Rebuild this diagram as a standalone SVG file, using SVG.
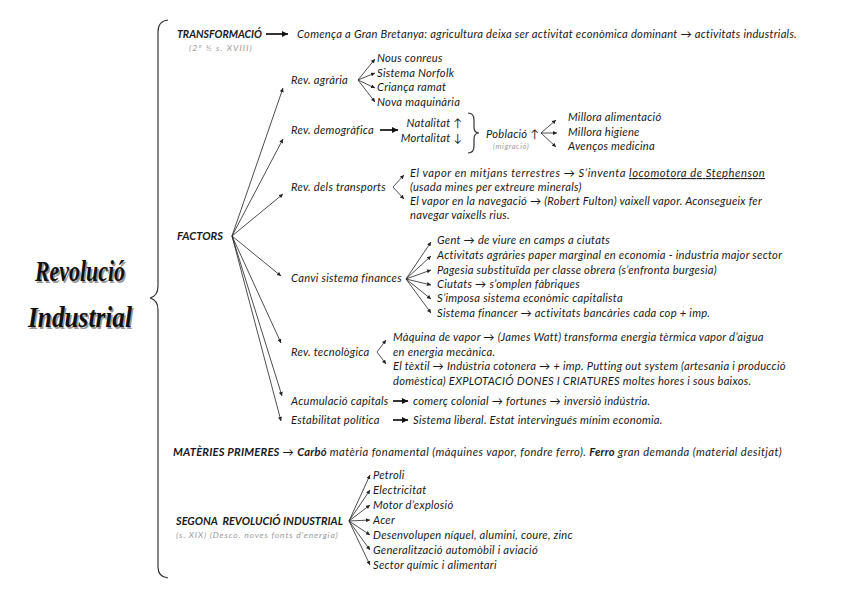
<svg xmlns="http://www.w3.org/2000/svg" width="848" height="599" viewBox="0 0 848 599">
<defs>
<style>
.t{font-family:Lato,"Noto Sans",sans-serif;font-style:italic;font-size:11.2px;letter-spacing:0.25px;fill:#1a1a1a}
.b{font-weight:bold;letter-spacing:0}
.g{fill:#9a9a9a;font-size:8.5px}
.c{stroke:#222;stroke-width:0.8;fill:none;marker-end:url(#ah)}
.k{stroke:#111;stroke-width:1.7;fill:none;marker-end:url(#ahb)}
.br{stroke:#333;stroke-width:1.2;fill:none}
.ti{font-family:"Liberation Serif",serif;font-style:italic;font-weight:bold;font-size:30px;text-anchor:middle}
</style>
<marker id="ah" viewBox="0 0 6 6" refX="6" refY="3" markerWidth="4.5" markerHeight="4" markerUnits="userSpaceOnUse" orient="auto"><path d="M0,0 L6,3 L0,6 z" fill="#222"/></marker>
<marker id="ahb" viewBox="0 0 6 6" refX="6" refY="3" markerWidth="7" markerHeight="6" markerUnits="userSpaceOnUse" orient="auto"><path d="M0,0 L6,3 L0,6 z" fill="#111"/></marker>
</defs>
<rect width="848" height="599" fill="#fff"/>

<g id="title">
<text class="ti" x="81.5" y="282.5" fill="#999" textLength="90" lengthAdjust="spacingAndGlyphs">Revolució</text>
<text class="ti" x="80" y="281" fill="#111" textLength="90" lengthAdjust="spacingAndGlyphs">Revolució</text>
<text class="ti" x="81.5" y="328.5" fill="#999" textLength="104" lengthAdjust="spacingAndGlyphs">Industrial</text>
<text class="ti" x="80" y="327" fill="#111" textLength="104" lengthAdjust="spacingAndGlyphs">Industrial</text>
</g>

<g id="main-brace">
<path class="br" d="M168,20 Q158,21 158,32 L158,286 Q158,296 150,298 Q158,300 158,310 L158,567 Q158,577 168,578"/>
</g>

<g id="connectors">
<path class="k" d="M266,34 L288,34"/>
<path class="c" d="M232,236 L283,88"/>
<path class="c" d="M232,236 L283,139"/>
<path class="c" d="M232,236 L283,194"/>
<path class="c" d="M232,236 L281,276"/>
<path class="c" d="M232,236 L281,343"/>
<path class="c" d="M232,236 L282,396"/>
<path class="c" d="M232,236 L281,421"/>
<path class="c" d="M358,80 L375,59"/>
<path class="c" d="M358,80 L375,73"/>
<path class="c" d="M358,80 L375,88"/>
<path class="c" d="M358,80 L375,102"/>
<path class="k" d="M380,130 L398,130"/>
<path class="c" d="M541,133 L556,120"/>
<path class="c" d="M541,133 L557,133"/>
<path class="c" d="M541,133 L556,147"/>
<path class="c" d="M393,187 L404,175"/>
<path class="c" d="M393,187 L404,199"/>
<path class="c" d="M406,279 L431,242"/>
<path class="c" d="M406,279 L431,256"/>
<path class="c" d="M406,279 L431,270"/>
<path class="c" d="M406,279 L431,285"/>
<path class="c" d="M406,279 L431,299"/>
<path class="c" d="M406,279 L431,313"/>
<path class="c" d="M377,352 L386,340"/>
<path class="c" d="M377,352 L386,364"/>
<path class="k" d="M393,401 L408,401"/>
<path class="k" d="M393,420 L408,420"/>
<path class="c" d="M349,521 L370,475"/>
<path class="c" d="M349,521 L370,490"/>
<path class="c" d="M349,521 L370,505"/>
<path class="c" d="M349,521 L370,520"/>
<path class="c" d="M349,521 L370,535"/>
<path class="c" d="M349,521 L370,550"/>
<path class="c" d="M349,521 L370,565"/>
</g>

<g id="transformacio">
<text class="t b" x="177" y="38" textLength="85" lengthAdjust="spacingAndGlyphs">TRANSFORMACIÓ</text>
<text class="t g" x="189" y="51" textLength="63" lengthAdjust="spacing">(2º ½ s. XVIII)</text>
<text class="t" x="297" y="38" textLength="500" lengthAdjust="spacingAndGlyphs">Comença a Gran Bretanya: agricultura deixa ser activitat econòmica dominant → activitats industrials.</text>
</g>

<g id="factors">
<text class="t b" x="177" y="240" textLength="46" lengthAdjust="spacingAndGlyphs">FACTORS</text>
</g>

<g id="rev-agraria">
<text class="t" x="291" y="84">Rev. agrària</text>
<text class="t" x="377" y="62">Nous conreus</text>
<text class="t" x="377" y="77">Sistema Norfolk</text>
<text class="t" x="377" y="91">Criança ramat</text>
<text class="t" x="377" y="106">Nova maquinària</text>
</g>

<g id="rev-demografica">
<text class="t" x="291" y="134">Rev. demogràfica</text>
<text class="t" x="462" y="127" text-anchor="end">Natalitat ↑</text>
<text class="t" x="462" y="142" text-anchor="end">Mortalitat ↓</text>
<path class="br" d="M468,113 Q474,113 474,120 L474,127 Q474,133 479,133 Q474,133 474,139 L474,146 Q474,153 468,153"/>
<text class="t" x="486" y="138">Població ↑</text>
<text class="t g" x="493" y="149" style="font-size:7.5px" textLength="36" lengthAdjust="spacing">(migració)</text>
<text class="t" x="568" y="121">Millora alimentació</text>
<text class="t" x="568" y="136">Millora higiene</text>
<text class="t" x="568" y="150">Avenços medicina</text>
</g>

<g id="rev-transports">
<text class="t" x="291" y="191">Rev. dels transports</text>
<text class="t" x="410" y="177" textLength="355" lengthAdjust="spacing">El vapor en mitjans terrestres → S’inventa <tspan text-decoration="underline">locomotora de Stephenson</tspan></text>
<text class="t" x="410" y="191">(usada mines per extreure minerals)</text>
<text class="t" x="410" y="205" textLength="352" lengthAdjust="spacing">El vapor en la navegació → (Robert Fulton) vaixell vapor. Aconsegueix fer</text>
<text class="t" x="410" y="219">navegar vaixells rius.</text>
</g>

<g id="canvi-sistema">
<text class="t" x="291" y="282">Canvi sistema finances</text>
<text class="t" x="437" y="244">Gent → de viure en camps a ciutats</text>
<text class="t" x="437" y="259">Activitats agràries paper marginal en economia - industria major sector</text>
<text class="t" x="437" y="274">Pagesia substituïda per classe obrera (s’enfronta burgesia)</text>
<text class="t" x="437" y="288">Ciutats → s’omplen fàbriques</text>
<text class="t" x="437" y="302">S’imposa sistema econòmic capitalista</text>
<text class="t" x="437" y="317">Sistema financer → activitats bancàries cada cop + imp.</text>
</g>

<g id="rev-tecnologica">
<text class="t" x="291" y="356">Rev. tecnològica</text>
<text class="t" x="393" y="341">Màquina de vapor → (James Watt) transforma energia tèrmica vapor d’aigua</text>
<text class="t" x="393" y="356">en energia mecànica.</text>
<text class="t" x="393" y="370">El tèxtil → Indústria cotonera → + imp. Putting out system (artesania i producció</text>
<text class="t" x="393" y="385">domèstica) EXPLOTACIÓ DONES I CRIATURES moltes hores i sous baixos.</text>
</g>

<g id="acumulacio">
<text class="t" x="291" y="405">Acumulació capitals</text>
<text class="t" x="413" y="405">comerç colonial → fortunes → inversió indústria.</text>
</g>

<g id="estabilitat">
<text class="t" x="291" y="424">Estabilitat política</text>
<text class="t" x="413" y="424">Sistema liberal. Estat intervingués mínim economia.</text>
</g>

<g id="materies">
<text class="t" x="173" y="456" textLength="609" lengthAdjust="spacing"><tspan class="b">MATÈRIES PRIMERES</tspan> → <tspan class="b">Carbó</tspan> matèria fonamental (màquines vapor, fondre ferro). <tspan class="b">Ferro</tspan> gran demanda (material desitjat)</text>
</g>

<g id="segona">
<text class="t b" x="176" y="525" xml:space="preserve" textLength="167" lengthAdjust="spacingAndGlyphs">SEGONA  REVOLUCIÓ INDUSTRIAL</text>
<text class="t g" x="176" y="538" textLength="162" lengthAdjust="spacing">(s. XIX) (Desco. noves fonts d’energia)</text>
<text class="t" x="373" y="479">Petroli</text>
<text class="t" x="373" y="494">Electricitat</text>
<text class="t" x="373" y="509">Motor d’explosió</text>
<text class="t" x="373" y="524">Acer</text>
<text class="t" x="373" y="539">Desenvolupen níquel, alumini, coure, zinc</text>
<text class="t" x="373" y="554">Generalització automòbil i aviació</text>
<text class="t" x="373" y="569">Sector químic i alimentari</text>
</g>
</svg>
